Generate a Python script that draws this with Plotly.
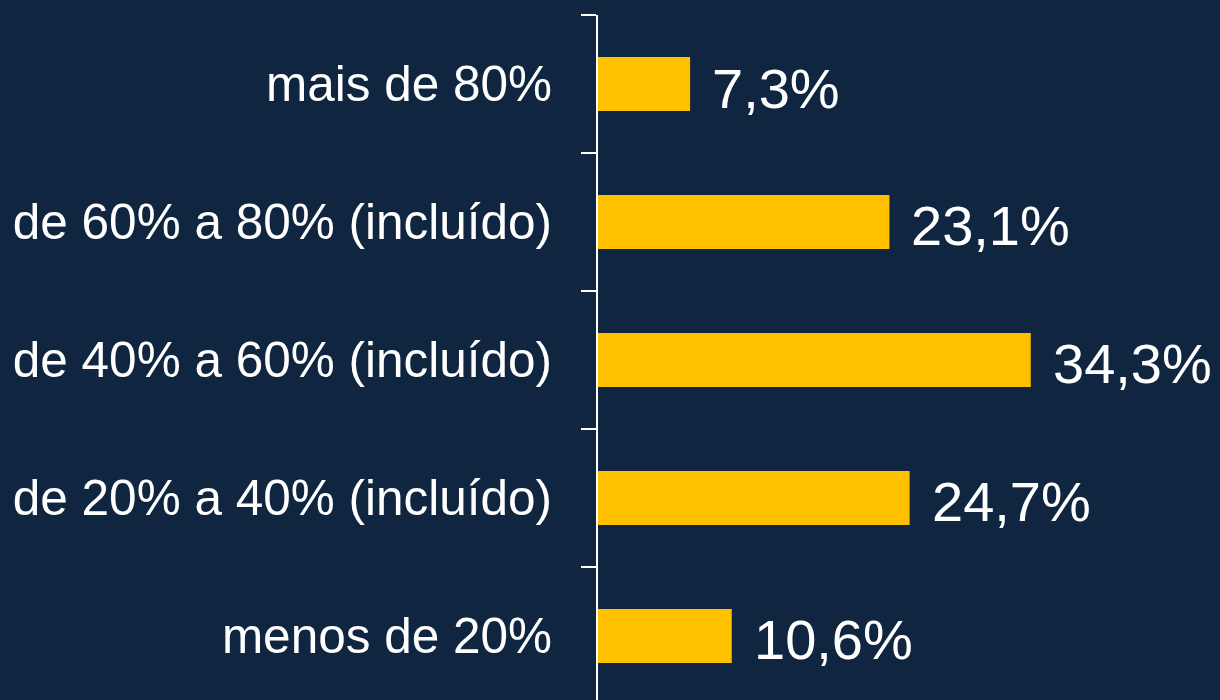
import plotly.graph_objects as go

categories = ["menos de 20%", "de 20% a 40% (incluído)", "de 40% a 60% (incluído)",
              "de 60% a 80% (incluído)", "mais de 80%"]
values = [10.6, 24.7, 34.3, 23.1, 7.3]
value_labels = ["10,6%", "24,7%", "34,3%", "23,1%", "7,3%"]

BG = "#0F2540"
BAR = "#FFC000"

fig = go.Figure()
fig.add_trace(go.Bar(
    y=categories, x=values, orientation="h",
    marker=dict(color=BAR, line=dict(width=0)),
    width=0.39, hoverinfo="skip",
))

for c, v, t in zip(categories, values, value_labels):
    fig.add_annotation(x=v, y=c, text=t, showarrow=False, xanchor="left",
                       yanchor="middle", xshift=20, yshift=-4,
                       font=dict(family="Liberation Sans, Arial", size=56, color="white"))

fig.update_layout(
    width=1220, height=700,
    paper_bgcolor=BG, plot_bgcolor=BG,
    margin=dict(l=598, r=0, t=15, b=0),
    showlegend=False,
    xaxis=dict(range=[0, 49.3], visible=False, showgrid=False, zeroline=False),
    yaxis=dict(
        type="category", categoryorder="array", categoryarray=categories,
        range=[-0.464, 4.5],
        showline=True, linecolor="white", linewidth=2,
        ticks="outside", tickson="boundaries", ticklen=15, tickwidth=2, tickcolor="white",
        ticklabelstandoff=34,
        tickfont=dict(family="Liberation Sans, Arial", size=49.5, color="white"),
        showgrid=False, zeroline=False,
    ),
    font=dict(family="Liberation Sans, Arial", color="white"),
)

fig.write_html("out.html", config={"displayModeBar": False, "staticPlot": True},
               post_script="document.body.style.margin='0';document.body.style.background='" + BG + "';")
